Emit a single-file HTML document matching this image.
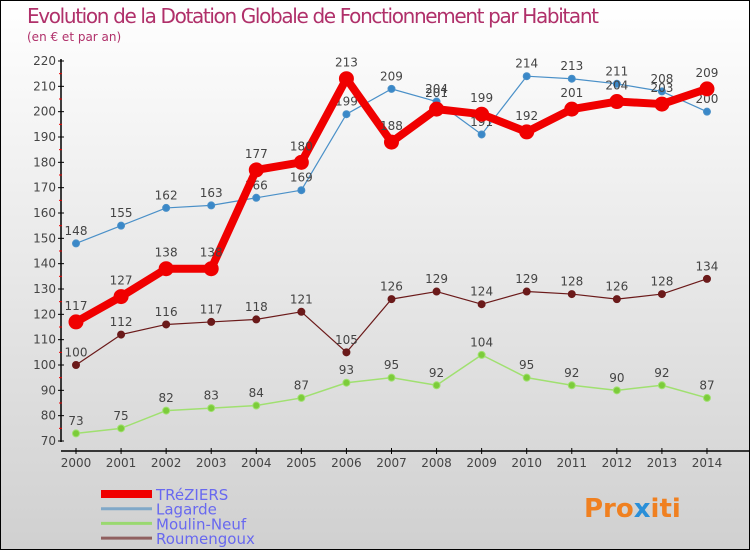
<!DOCTYPE html>
<html><head><meta charset="utf-8"><style>
body{margin:0}
#c{position:relative;width:748px;height:548px;border:1px solid #000;background:linear-gradient(#fff,#d0d0d0);font-family:"DejaVu Sans","Liberation Sans",sans-serif;overflow:hidden}
text{font-family:"DejaVu Sans","Liberation Sans",sans-serif}
</style></head><body>
<div id="c">
<svg id="s" width="748" height="548">
<text x="26" y="22" font-size="20" fill="#b0306a" textLength="572">Evolution de la Dotation Globale de Fonctionnement par Habitant</text>
<text x="26" y="40" font-size="12" fill="#b0306a">(en € et par an)</text>
<g id="g"></g>
<text x="583" y="516" font-size="26" font-weight="bold" fill="#f08020">Pro<tspan fill="#2a8fd8">x</tspan>iti</text>
</svg>
</div>
<script>
const years=[2000,2001,2002,2003,2004,2005,2006,2007,2008,2009,2010,2011,2012,2013,2014];
const treziers=[117,127,138,138,177,180,213,188,201,199,192,201,204,203,209];
const lagarde=[148,155,162,163,166,169,199,209,204,191,214,213,211,208,200];
const moulin=[73,75,82,83,84,87,93,95,92,104,95,92,90,92,87];
const roumen=[100,112,116,117,118,121,105,126,129,124,129,128,126,128,134];
const yTicks=[70,80,90,100,110,120,130,140,150,160,170,180,190,200,210,220];
const NS="http://www.w3.org/2000/svg";
const g=document.getElementById('g');
const X=i=>75+i*45.07, Y=v=>440-(v-70)*380/150;
function el(t,a,p){const e=document.createElementNS(NS,t);for(const k in a)e.setAttribute(k,a[k]);(p||g).appendChild(e);return e;}
let e=el('line',{x1:60,y1:58,x2:60,y2:441,stroke:'#000','stroke-width':1.5});

e=el('line',{x1:60,y1:450,x2:748,y2:450,stroke:'#000','stroke-width':1.5});

yTicks.forEach(v=>{const y=Y(v);
 el('line',{x1:57,y1:y,x2:63,y2:y,stroke:'#000'});
 if(v<220) el('line',{x1:58,y1:Y(v+5),x2:61,y2:Y(v+5),stroke:'#e00'});
 const t=el('text',{x:55,y:y+4,'font-size':12,fill:'#444','text-anchor':'end'});t.textContent=v;
 });
years.forEach((yr,i)=>{const x=X(i);
 el('line',{x1:x,y1:447,x2:x,y2:453,stroke:'#000'});
 const t=el('text',{x:x,y:466,'font-size':12,fill:'#444','text-anchor':'middle'});t.textContent=yr;
 });
function series(d,col,dot,w,r,name,lblCol){
 const p=el('polyline',{points:d.map((v,i)=>X(i)+','+Y(v)).join(' '),fill:'none',stroke:col,'stroke-width':w,'stroke-linejoin':'round'});
 
 d.forEach((v,i)=>{const c=el('circle',{cx:X(i),cy:Y(v),r:r,fill:dot,stroke:col,'stroke-width':1});
  
  const t=el('text',{x:X(i),y:Y(v)-(r+5),'font-size':12,fill:'#444','text-anchor':'middle'});t.textContent=v;
  });
}
series(roumen,'#6b1a1a','#6b1a1a',1.2,3.5,'roumengoux');
series(moulin,'#a0e070','#7ccc3a',1.5,3.5,'moulin-neuf');
series(lagarde,'#4a90c8','#3a88c8',1.2,3.5,'lagarde');
series(treziers,'#f00000','#f00000',8,7,'treziers');
const leg=[['TRéZIERS','#f00000',8],['Lagarde','#80a8c8',3],['Moulin-Neuf','#9ad870',3],['Roumengoux','#906060',3]];
leg.forEach((l,i)=>{const y=493+i*14.7;
 let a=el('line',{x1:100,y1:y,x2:151,y2:y,stroke:l[1],'stroke-width':l[2]});
 
 const t=el('text',{x:155,y:y+6,'font-size':15,fill:'#6868f0'});t.textContent=l[0];
 });
</script>
</body></html>
